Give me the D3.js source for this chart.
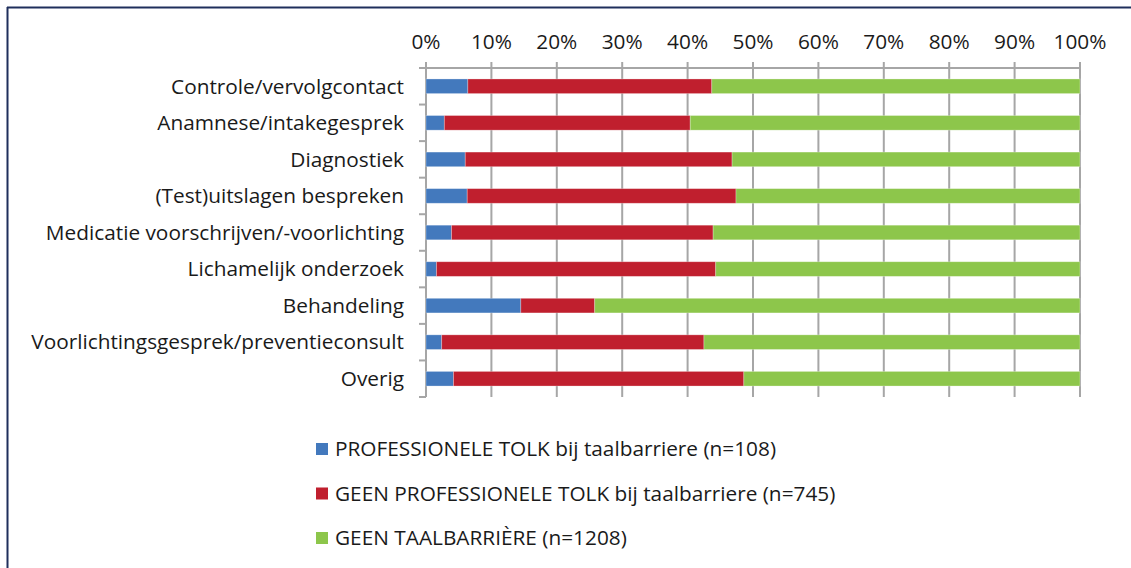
<!DOCTYPE html>
<html>
<head>
<meta charset="utf-8">
<script src="https://cdn.jsdelivr.net/npm/d3@7"></script>
<style>
  body { margin: 0; background: #fff; }
  svg text { font-family: "Open Sans", "Noto Sans", sans-serif; fill: #1a1a1a; }
</style>
</head>
<body>
<div id="chart"></div>
<script>
// categories, top to bottom
let categories = [
  "Controle/vervolgcontact",
  "Anamnese/intakegesprek",
  "Diagnostiek",
  "(Test)uitslagen bespreken",
  "Medicatie voorschrijven/-voorlichting",
  "Lichamelijk onderzoek",
  "Behandeling",
  "Voorlichtingsgesprek/preventieconsult",
  "Overig"
];

// share per category (%)
let profTolk   = [6.4, 2.8, 6.0, 6.3, 3.9, 1.6, 14.5, 2.4, 4.2];
let geenTolk   = [37.3, 37.6, 40.8, 41.1, 40.0, 42.7, 11.3, 40.1, 44.4];
let geenBarriere = [56.3, 59.6, 53.2, 52.6, 56.1, 55.7, 74.2, 57.5, 51.4];

let seriesNames = [
  "PROFESSIONELE TOLK bij taalbarriere (n=108)",
  "GEEN PROFESSIONELE TOLK bij taalbarriere (n=745)",
  "GEEN TAALBARRIÈRE (n=1208)"
];
let seriesColors = ["#4379bd", "#c01f2e", "#8dc64b"];
let xTicks = [0, 10, 20, 30, 40, 50, 60, 70, 80, 90, 100];

const W = 1131, H = 568;
const plot = {left: 426, right: 1080, top: 68, bottom: 397};
const fontSize = "20.8px";

const svg = d3.select("#chart").append("svg")
  .attr("width", W).attr("height", H);

// frame bits of the surrounding text box
svg.append("line").attr("x1", 7).attr("x2", W).attr("y1", 7.5).attr("y2", 7.5)
  .attr("stroke", "#1f2f5c").attr("stroke-width", 2);
svg.append("line").attr("x1", 7.5).attr("x2", 7.5).attr("y1", 7).attr("y2", H)
  .attr("stroke", "#1f2f5c").attr("stroke-width", 2);

let x = d3.scaleLinear().domain([0, 100]).range([plot.left, plot.right]);
let y = d3.scaleBand().domain(categories).range([plot.top, plot.bottom]).paddingInner(0.6).paddingOuter(0.3);

// stacked data
let rows = categories.map((c, i) => ({cat: c, s0: profTolk[i], s1: geenTolk[i], s2: geenBarriere[i]}));
let stack = d3.stack().keys(["s0", "s1", "s2"])(rows);

// gridlines + top tick marks
svg.append("g").selectAll("line").data(xTicks).enter().append("line")
  .attr("x1", d => x(d)).attr("x2", d => x(d))
  .attr("y1", plot.top - 6).attr("y2", plot.bottom)
  .attr("stroke", "#a6a6a6").attr("stroke-width", 2);

// top axis line
svg.append("line").attr("x1", plot.left - 7).attr("x2", plot.right)
  .attr("y1", plot.top).attr("y2", plot.top)
  .attr("stroke", "#a6a6a6").attr("stroke-width", 2);

// left axis with ticks at band edges
let bandEdges = categories.map(c => y(c) - y.step() * y.paddingInner() / 2).concat([plot.bottom]);
svg.append("line").attr("x1", plot.left).attr("x2", plot.left)
  .attr("y1", plot.top - 6).attr("y2", plot.bottom)
  .attr("stroke", "#a6a6a6").attr("stroke-width", 2);
svg.append("g").selectAll("line").data(bandEdges).enter().append("line")
  .attr("x1", plot.left - 7).attr("x2", plot.left)
  .attr("y1", d => d).attr("y2", d => d)
  .attr("stroke", "#a6a6a6").attr("stroke-width", 2);

// bars
svg.append("g").selectAll("g").data(stack).enter().append("g")
  .attr("fill", (d, i) => seriesColors[i])
  .selectAll("rect").data(d => d).enter().append("rect")
  .attr("x", d => x(d[0]))
  .attr("width", d => x(d[1]) - x(d[0]))
  .attr("y", d => y(d.data.cat))
  .attr("height", y.bandwidth())
  .attr("stroke", "rgba(255,255,255,0.35)").attr("stroke-width", 0.8);

// x tick labels on top
svg.append("g").selectAll("text").data(xTicks).enter().append("text")
  .attr("x", d => x(d)).attr("y", 49)
  .attr("text-anchor", "middle")
  .style("font-size", fontSize)
  .text(d => d + "%");

// category labels
svg.append("g").selectAll("text").data(categories).enter().append("text")
  .attr("x", plot.left - 22)
  .attr("y", d => y(d) + y.bandwidth() / 2)
  .attr("dy", "0.35em")
  .attr("text-anchor", "end")
  .style("font-size", fontSize)
  .text(d => d);

// legend
let legend = svg.append("g").selectAll("g").data(seriesNames).enter().append("g")
  .attr("transform", (d, i) => `translate(316, ${449 + i * 44.5})`);
legend.append("rect").attr("x", 0).attr("y", -6).attr("width", 12).attr("height", 12)
  .attr("fill", (d, i) => seriesColors[i]);
legend.append("text").attr("x", 19).attr("dy", "0.35em")
  .style("font-size", fontSize)
  .text(d => d);
</script>
</body>
</html>
